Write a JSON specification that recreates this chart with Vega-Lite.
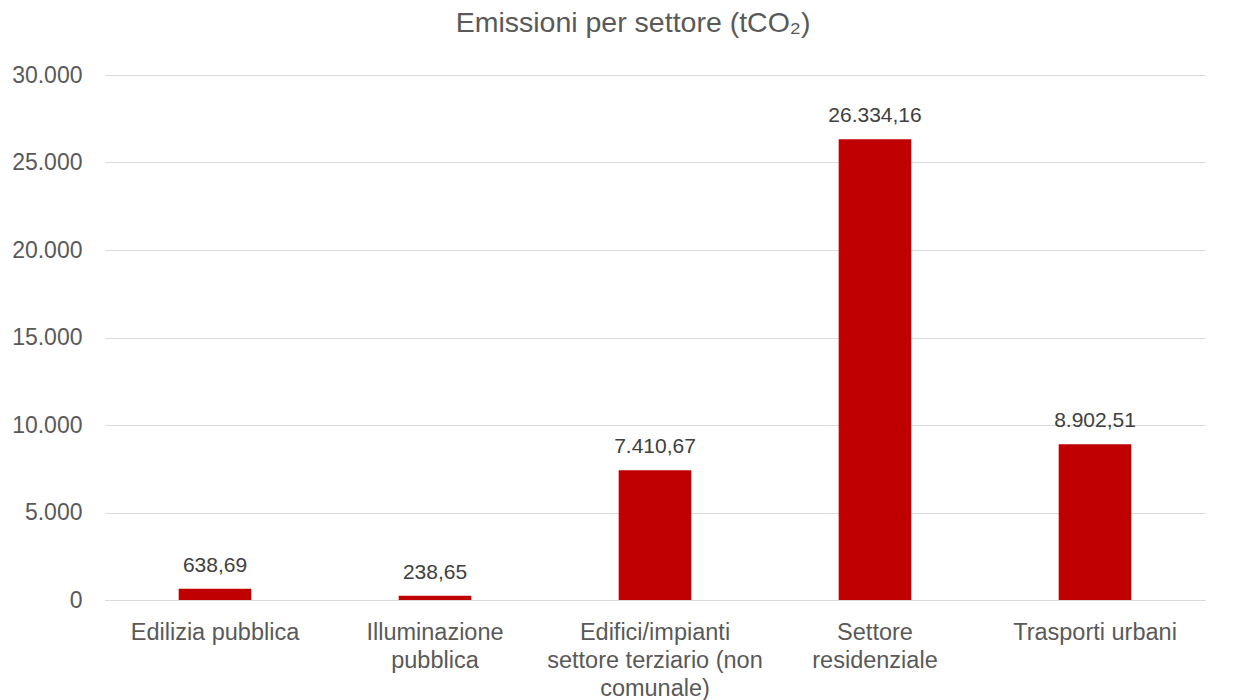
{
  "$schema": "https://vega.github.io/schema/vega-lite/v6.json",
  "width": 1100,
  "height": 525,
  "autosize": {"type": "none"},
  "padding": {"left": 105, "top": 75, "right": 29, "bottom": 100},
  "background": "white",
  "config": {
    "locale": {"number": {"decimal": ",", "thousands": ".", "grouping": [3], "currency": ["€", ""]}},
    "font": "Liberation Sans",
    "view": {"stroke": null}
  },
  "title": {
    "text": "Emissioni per settore (tCO₂)",
    "fontSize": 28.5,
    "fontWeight": "normal",
    "color": "#595959",
    "anchor": "middle",
    "dx": -22,
    "offset": 27
  },
  "data": {
    "values": [
      {"settore": "Edilizia pubblica", "valore": 638.69},
      {"settore": "Illuminazione pubblica", "valore": 238.65},
      {"settore": "Edifici/impianti settore terziario (non comunale)", "valore": 7410.67},
      {"settore": "Settore residenziale", "valore": 26334.16},
      {"settore": "Trasporti urbani", "valore": 8902.51}
    ]
  },
  "encoding": {
    "x": {
      "field": "settore",
      "type": "nominal",
      "sort": null,
      "scale": {"paddingInner": 0.67, "paddingOuter": 0.335},
      "axis": {
        "title": null,
        "labelAngle": 0,
        "labelFontSize": 23.5,
        "labelColor": "#595959",
        "labelPadding": 20,
        "labelLineHeight": 28,
        "labelLimit": 300,
        "ticks": false,
        "domainColor": "#d9d9d9",
        "labelExpr": "datum.value == 'Illuminazione pubblica' ? ['Illuminazione', 'pubblica'] : datum.value == 'Edifici/impianti settore terziario (non comunale)' ? ['Edifici/impianti', 'settore terziario (non', 'comunale)'] : datum.value == 'Settore residenziale' ? ['Settore', 'residenziale'] : datum.value"
      }
    },
    "y": {
      "field": "valore",
      "type": "quantitative",
      "scale": {"domain": [0, 30000]},
      "axis": {
        "title": null,
        "values": [0, 5000, 10000, 15000, 20000, 25000, 30000],
        "format": ",d",
        "labelFontSize": 23,
        "labelColor": "#595959",
        "labelPadding": 23,
        "ticks": false,
        "domain": false,
        "gridColor": "#d9d9d9",
        "gridWidth": 1
      }
    }
  },
  "layer": [
    {"mark": {"type": "bar", "color": "#C00000"}},
    {
      "mark": {"type": "text", "fontSize": 21, "color": "#404040", "baseline": "alphabetic", "dy": -17},
      "encoding": {"text": {"field": "valore", "type": "quantitative", "format": ",.2f"}}
    }
  ]
}
